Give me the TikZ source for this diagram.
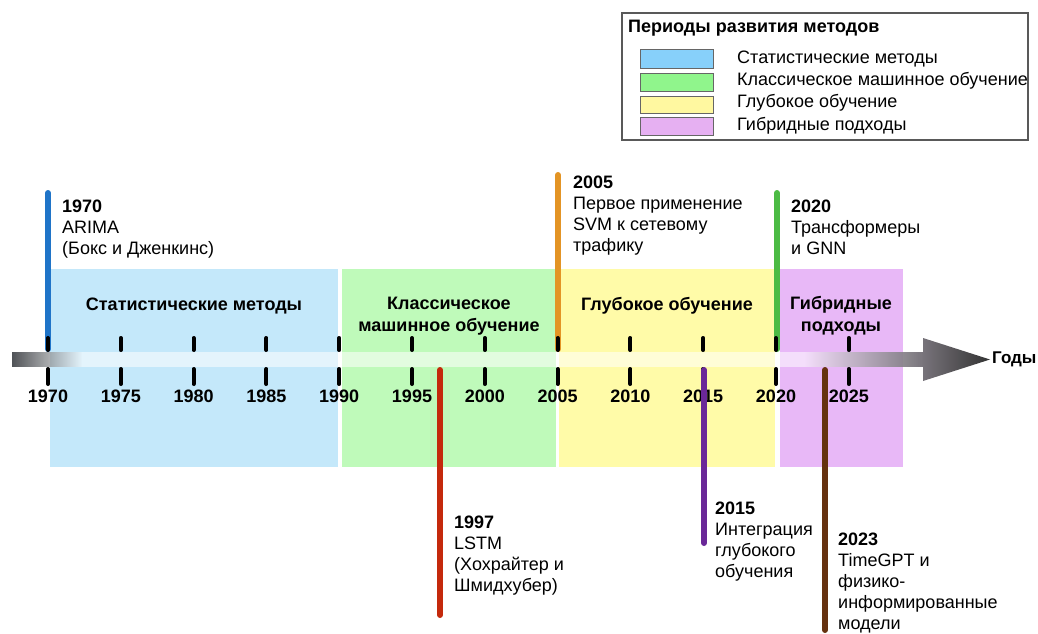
\documentclass[tikz,border=0pt]{standalone}
\usepackage{fontspec}
\setmainfont{Liberation Sans}
\usepackage{xcolor}
\usetikzlibrary{positioning, fadings}

\definecolor{statBox}{HTML}{C4E8FA}
\definecolor{mlBox}{HTML}{BFFABA}
\definecolor{dlBox}{HTML}{FFFBA8}
\definecolor{hybBox}{HTML}{E8B8F7}
\definecolor{statKey}{HTML}{87D0FA}
\definecolor{mlKey}{HTML}{90F58C}
\definecolor{dlKey}{HTML}{FFF8A0}
\definecolor{hybKey}{HTML}{E6B0F2}
\definecolor{evBlue}{HTML}{1F74C8}
\definecolor{evOrange}{HTML}{E39425}
\definecolor{evGreen}{HTML}{4CBB44}
\definecolor{evRed}{HTML}{C4290C}
\definecolor{evPurple}{HTML}{6A2898}
\definecolor{evBrown}{HTML}{66320F}
\definecolor{barDark}{HTML}{505357}
\definecolor{barGray}{HTML}{77737A}
\definecolor{barTip}{HTML}{333333}

\tikzfading[name=fade out right, left color=transparent!0, right color=transparent!100]
\tikzfading[name=fade in right, left color=transparent!100, right color=transparent!0]

\tikzset{
  evline/.style={line width=6pt, line cap=round},
  evtext/.style={anchor=north west, align=left, inner sep=0pt,
    font=\fontsize{18}{21}\selectfont},
  periodlbl/.style={align=center, inner sep=0pt,
    font=\fontsize{18}{22}\selectfont\bfseries}
}

\begin{document}
\begin{tikzpicture}[x=1pt, y=-1pt,
    yeartick/.style={line width=4pt, line cap=round, black},
    yearlbl/.style={anchor=base, inner sep=0pt, font=\fontsize{18}{20}\selectfont\bfseries},
    keybox/.style={draw=black!60, line width=1pt},
    keytext/.style={anchor=west, inner sep=0pt, font=\fontsize{18}{20}\selectfont} ]
    \useasboundingbox (0,0) rectangle (1038,634);

    % periods
    \fill [statBox] (50,269) rectangle (338,467);
    \fill [mlBox] (342,269) rectangle (556,467);
    \fill [dlBox] (559,269) rectangle (775,467);
    \fill [hybBox] (780,269) rectangle (903,467);

    % events above the axis
    \coordinate (t1970) at (48,193);
    \coordinate (a1970) at (48,349);
    \coordinate (t2005) at (558,175);
    \coordinate (a2005) at (558,349);
    \coordinate (t2020) at (777,193);
    \coordinate (a2020) at (777,349);
    \draw [evline, evBlue] (t1970) to (a1970);
    \draw [evline, evOrange] (t2005) to (a2005);
    \draw [evline, evGreen] (t2020) to (a2020);

    % ticks
    \foreach \yr in {1970,1975,...,2025} {
      \pgfmathsetmacro\xx{48+(\yr-1970)*14.56}
      \draw [yeartick] (\xx,338) -- (\xx,350);
      \draw [yeartick] (\xx,369) -- (\xx,384);
      \node at (\xx,402) [yearlbl] (y\yr) {\yr};
    }

    % axis
    \fill [white, fill opacity=0.55] (12,352) rectangle (923,367);
    \fill [barDark, path fading=fade out right] (12,352) rectangle (82,367);
    \fill [barGray, path fading=fade in right] (805,352) rectangle (924,367);
    \shade [left color=barGray, right color=barTip] (923,338) -- (990,359.5) -- (923,381) -- cycle;
    \node at (992,359.5) [anchor=west, inner sep=0pt, font=\fontsize{17}{20}\selectfont\bfseries] (axis) {Годы};

    % events below the axis
    \coordinate (a1997) at (440,370);
    \coordinate (b1997) at (440,615);
    \coordinate (a2015) at (704,370);
    \coordinate (b2015) at (704,543);
    \coordinate (a2023) at (825,370);
    \coordinate (b2023) at (825,630);
    \draw [evline, evRed] (a1997) to (b1997);
    \draw [evline, evPurple] (a2015) to (b2015);
    \draw [evline, evBrown] (a2023) to (b2023);

    % period labels
    \node at (194,306) [periodlbl] (pstat) {Статистические методы};
    \node at (449,316) [periodlbl] (pml) {Классическое\\машинное обучение};
    \node at (667,306) [periodlbl] (pdl) {Глубокое обучение};
    \node at (841,316) [periodlbl] (phyb) {Гибридные\\подходы};

    % event texts
    \node at (62,200) [evtext] (e1970) {\textbf{1970}\\ARIMA\\(Бокс и Дженкинс)};
    \node at (573,176) [evtext] (e2005) {\textbf{2005}\\Первое применение\\SVM к сетевому\\трафику};
    \node at (791,200) [evtext] (e2020) {\textbf{2020}\\Трансформеры\\и GNN};
    \node at (454,516) [evtext] (e1997) {\textbf{1997}\\LSTM\\(Хохрайтер и\\Шмидхубер)};
    \node at (715,502) [evtext] (e2015) {\textbf{2015}\\Интеграция\\глубокого\\обучения};
    \node at (838,533) [evtext] (e2023) {\textbf{2023}\\TimeGPT и\\физико-\\информированные\\модели};

    % legend
    \draw [black!65, line width=1.2pt] (622,13) rectangle (1028,140);
    \node at (628,33) [anchor=base west, inner sep=0pt, font=\fontsize{18}{20}\selectfont\bfseries] (ktitle) {Периоды развития методов};
    \draw [keybox, fill=statKey] (640,50) rectangle (713,68);
    \draw [keybox, fill=mlKey] (640,73) rectangle (713,91);
    \draw [keybox, fill=dlKey] (640,96) rectangle (713,113);
    \draw [keybox, fill=hybKey] (640,117) rectangle (713,135);
    \node at (737,59) [keytext] (kstat) {Статистические методы};
    \node at (737,81) [keytext] (kml) {Классическое машинное обучение};
    \node at (737,103) [keytext] (kdl) {Глубокое обучение};
    \node at (737,126) [keytext] (khyb) {Гибридные подходы};
\end{tikzpicture}
\end{document}
